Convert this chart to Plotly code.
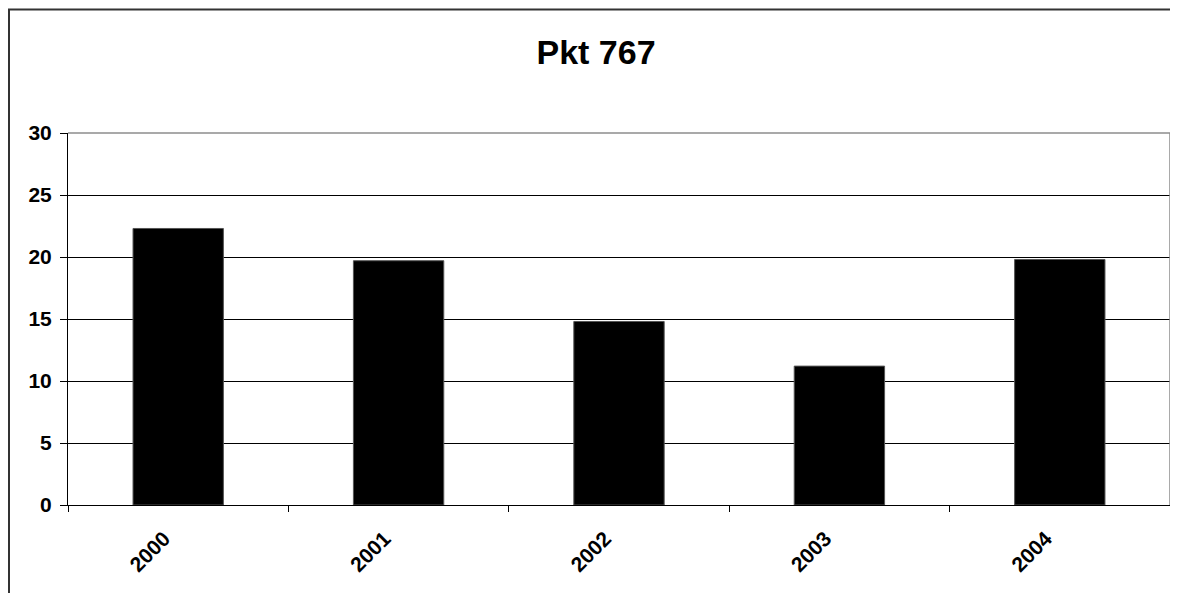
import plotly.graph_objects as go

# data
years = ["2000", "2001", "2002", "2003", "2004"]
values = [22.3, 19.7, 14.8, 11.2, 19.8]
y_ticks = [0, 5, 10, 15, 20, 25, 30]

# page body has an 8px margin, so the figure is a bit smaller and shifted
OFF = 8
W, H = 1178 - OFF, 593 - OFF
L, R, T, B = 68 - OFF, 8, 133 - OFF, 88
pw, ph = W - L - R, H - T - B

def px_x(x):
    return (x - OFF - L) / pw

def px_y(y):
    return (H - B - (y - OFF)) / ph

fig = go.Figure(go.Bar(
    x=years, y=values,
    marker=dict(color="black", line=dict(color="#555555", width=1)),
))

fig.update_layout(
    width=W, height=H,
    margin=dict(l=L, r=R, t=T, b=B),
    paper_bgcolor="white", plot_bgcolor="white",
    bargap=0.59,
    showlegend=False,
    font=dict(family="Arial, Liberation Sans, sans-serif", color="black"),
    title=dict(text="<b>Pkt 767</b>", x=(596 - OFF) / W, xanchor="center",
               y=1 - (52 - OFF) / H, yanchor="middle",
               font=dict(size=34, color="black")),
)

fig.update_yaxes(
    range=[0, 30], tickvals=y_ticks,
    showgrid=True, gridcolor="black", gridwidth=1,
    showline=True, linecolor="black", linewidth=1,
    ticks="outside", ticklen=7, tickcolor="black",
    ticklabelstandoff=4,
    tickfont=dict(size=21, weight="bold"),
    zeroline=False, fixedrange=True,
)
fig.update_xaxes(
    showgrid=False,
    showline=True, linecolor="black", linewidth=1,
    ticks="outside", ticklen=6, tickcolor="black", tickson="boundaries",
    tickangle=-45, tickfont=dict(size=21, weight="bold"),
    ticklabelstandoff=12, ticklabelshift=-14,
    fixedrange=True,
)

# grey plot-area border on top and right, outer chart frame
fig.add_shape(type="line", xref="paper", yref="paper", x0=0, x1=1, y0=1, y1=1,
              line=dict(color="#8c8c8c", width=1.5), layer="above")
fig.add_shape(type="line", xref="paper", yref="paper", x0=1, x1=1, y0=0, y1=1,
              line=dict(color="#8c8c8c", width=1.5), layer="above")
fig.add_shape(type="rect", xref="paper", yref="paper",
              x0=px_x(9), x1=px_x(1200), y0=px_y(620), y1=px_y(9.5),
              line=dict(color="#333333", width=2), layer="above")

fig.write_html("out.html")
